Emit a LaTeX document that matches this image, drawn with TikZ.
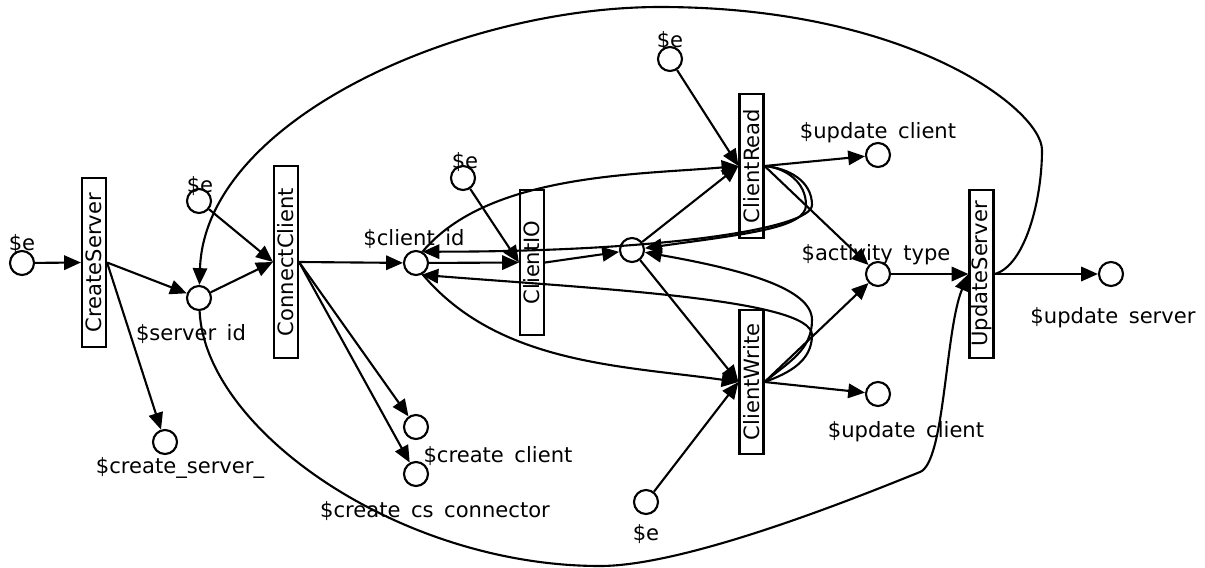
\documentclass[tikz,border=0pt]{standalone}
\usepackage{fontspec}
\setmainfont{DejaVu Sans}
\usetikzlibrary{arrows.meta,positioning}

\newcommand{\ugap}{\phantom{\_}}

\begin{document}
\begin{tikzpicture}[
        x=0.025cm, y=0.025cm,
        font=\fontsize{15}{17}\selectfont,
        line width=1.5pt,
        place/.style={draw, circle, minimum size=0.6cm, inner sep=0pt},
        trans/.style={draw, rectangle, minimum width=0.6cm, minimum height=#1, inner sep=0pt},
        lbl/.style={anchor=base, inner sep=0pt},
        arc/.style={-{Triangle[length=0.42cm,width=0.36cm]}}
    ]
    \useasboundingbox (0,0) rectangle (1205,-567);

    % transitions
    \node[trans=4.22cm] (cs)  at (94,-262.5)  {\rotatebox{90}{CreateServer}};
    \node[trans=4.8cm]  (cc)  at (286,-262)   {\rotatebox{90}{ConnectClient}};
    \node[trans=3.62cm] (cio) at (532,-262.5) {\rotatebox{90}{ClientIO}};
    \node[trans=3.6cm]  (cr)  at (751.5,-166) {\rotatebox{90}{ClientRead}};
    \node[trans=3.6cm]  (cw)  at (751.5,-382) {\rotatebox{90}{ClientWrite}};
    \node[trans=4.2cm]  (us)  at (981.5,-274) {\rotatebox{90}{UpdateServer}};

    % places
    \node[place] (e1)  at (22,-263)   {};
    \node[place] (e2)  at (199,-201)  {};
    \node[place] (sid) at (199,-298)  {};
    \node[place] (csv) at (165,-442)  {};
    \node[place] (cid) at (416,-263)  {};
    \node[place] (e3)  at (463,-178)  {};
    \node[place] (mid) at (632,-250)  {};
    \node[place] (e4)  at (670,-59)   {};
    \node[place] (uc1) at (878,-155)  {};
    \node[place] (act) at (878,-274)  {};
    \node[place] (uc2) at (878,-394)  {};
    \node[place] (e5)  at (646,-502)  {};
    \node[place] (ccl) at (416,-427)  {};
    \node[place] (ccs) at (416,-474)  {};
    \node[place] (usv) at (1111,-274) {};

    % labels
    \node[lbl] (l-e1)  at (22,-250)   {\$e};
    \node[lbl] (l-e2)  at (200,-192)  {\$e};
    \node[lbl] (l-sid) at (191,-340)  {\$server\ugap id};
    \node[lbl] (l-csv) at (180,-473)  {\$create\_server\_};
    \node[lbl] (l-cid) at (414,-245)  {\$client\ugap id};
    \node[lbl] (l-e3)  at (465,-168)  {\$e};
    \node[lbl] (l-e4)  at (670,-47)   {\$e};
    \node[lbl] (l-uc1) at (878,-138)  {\$update\ugap client};
    \node[lbl] (l-act) at (876,-260)  {\$activity\ugap type};
    \node[lbl] (l-uc2) at (906,-437)  {\$update\ugap client};
    \node[lbl] (l-e5)  at (646,-540)  {\$e};
    \node[lbl] (l-usv) at (1113,-323) {\$update\ugap server};
    \node[lbl] (l-ccl) at (498,-462)  {\$create\ugap client};
    \node[lbl] (l-ccs) at (435,-517)  {\$create\ugap cs\ugap connector};

    % straight arcs
    \draw[arc] (e1) -- (cs.west);
    \draw[arc] (cs.east) -- (sid);
    \draw[arc] (cs.east) -- (csv);
    \draw[arc] (sid) -- (cc.west);
    \draw[arc] (e2) -- (cc.west);
    \draw[arc] (cc.east) -- (cid);
    \draw[arc] (cc.east) -- (ccl);
    \draw[arc] (cc.east) -- (ccs);
    \draw[arc] (cid) -- (cio.west);
    \draw[arc] (e3) -- (cio.west);
    \draw[arc] (cio.east) -- (mid);
    \draw[arc] (mid) -- (cr.west);
    \draw[arc] (mid) -- (cw.west);
    \draw[arc] (e4) -- (cr.west);
    \draw[arc] (e5) -- (cw.west);
    \draw[arc] (cr.east) -- (uc1);
    \draw[arc] (cr.east) -- (act);
    \draw[arc] (cw.east) -- (act);
    \draw[arc] (cw.east) -- (uc2);
    \draw[arc] (act) -- (us.west);
    \draw[arc] (us.east) -- (usv);

    % curved arcs round the client loop
    \draw[arc] (cid.60) to[out=50,in=185,looseness=0.8] (cr.west);
    \draw[arc] (cid.-60) to[out=-50,in=172,looseness=0.9] (cw.west);
    \draw[arc] (cr.east) to[out=-5,in=90] (812,-205)
        to[out=-90,in=0,out looseness=0.15,in looseness=1.6] (cid.60);
    \draw[arc] (cr.east) to[out=-5,in=90] (806,-205)
        to[out=-90,in=8,out looseness=0.35,in looseness=1.6] (mid);
    \draw[arc] (cw.east) to[out=40,in=-90] (812,-320)
        to[out=90,in=-10,out looseness=0.45,in looseness=1.4] (mid);
    \draw[arc] (cw.east) to[out=20,in=-90] (812,-335)
        to[out=90,in=-4.5,out looseness=0.23,in looseness=1.16] (cid.-65);

    % server loop
    \draw[arc] (us.east) .. controls (1025,-266) and (1042,-200) .. (1042,-150)
        .. controls (1042,-110) and (910,-7) .. (660,-7)
        .. controls (460,-7) and (205,-120) .. (sid);
    \draw[arc] (sid) .. controls (205,-430) and (400,-566) .. (600,-566)
        .. controls (690,-566) and (870,-492) .. (920,-472)
        .. controls (945,-462) and (945,-330) .. (us.west);
\end{tikzpicture}
\end{document}
